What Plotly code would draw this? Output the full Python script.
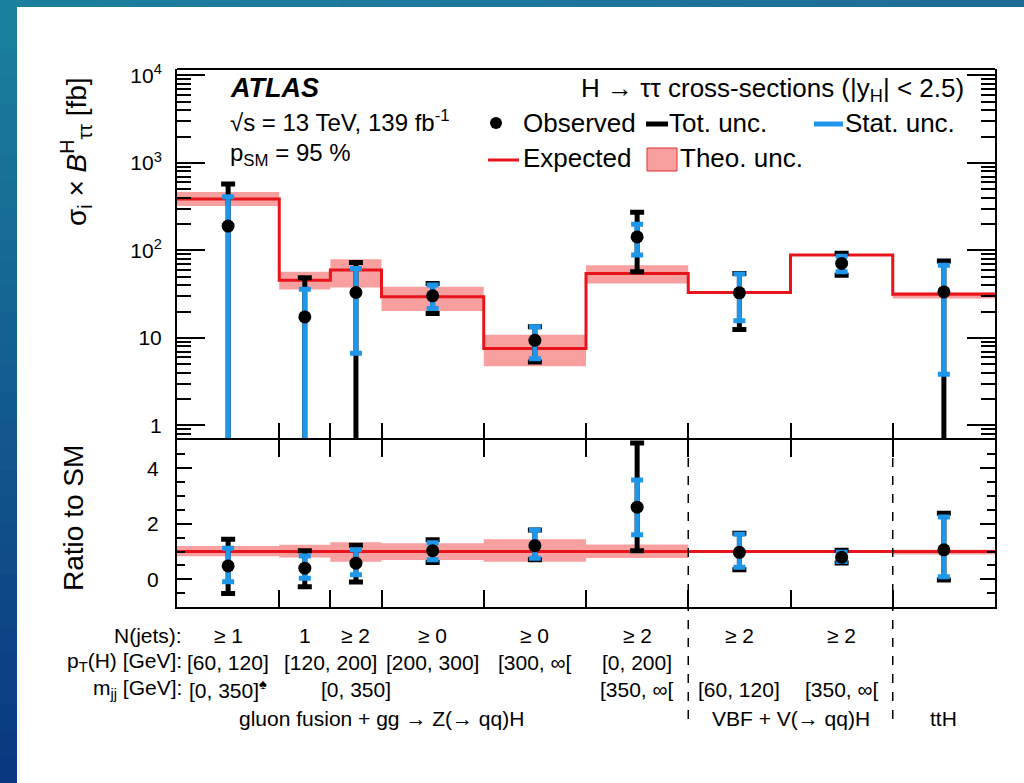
import plotly.graph_objects as go

# ---------------------------------------------------------------- data
# bin layout of the STXS categories (arbitrary x units)
bin_edges = [0, 2, 3, 4, 6, 8, 10, 12, 14, 16]

# SM expectation of sigma x B(H->tautau) [fb] and theory band
expected = [388, 45.8, 59.7, 29.5, 7.56, 54.6, 33.1, 88.6, 31.7]
theo_lo = [323, 35.8, 37.8, 20.4, 4.74, 42, 33.1, 88.6, 28.3]
theo_hi = [467, 57, 79.6, 38.4, 10.9, 68, 33.1, 88.6, 33.6]

# measured cross-sections [fb] with total and statistical intervals
observed = [190, 17.4, 33.1, 30.3, 9.4, 143, 32.8, 71.2, 33.6]
tot_lo = [-198, -12.4, -6, 19.0, 5.3, 57, 12.5, 52, -1]
tot_hi = [576, 48.7, 73, 42, 13.4, 273, 54.5, 92.7, 75.6]
stat_lo = [-35, 0.4, 6.7, 21.7, 5.8, 88.5, 15.7, 57, 3.84]
stat_hi = [412, 36.1, 62.4, 40.2, 13.4, 200, 53.7, 86, 68]

# ratio to SM
ratio_obs = [0.48, 0.40, 0.58, 1.03, 1.21, 2.60, 0.97, 0.79, 1.06]
ratio_tot_lo = [-0.51, -0.27, -0.10, 0.60, 0.70, 1.03, 0.34, 0.59, -0.03]
ratio_tot_hi = [1.44, 1.03, 1.23, 1.42, 1.78, 4.91, 1.66, 1.05, 2.38]
ratio_stat_lo = [-0.09, 0.04, 0.16, 0.70, 0.76, 1.60, 0.43, 0.64, 0.09]
ratio_stat_hi = [1.12, 0.84, 1.06, 1.32, 1.78, 3.58, 1.62, 0.97, 2.24]
ratio_theo_lo = [0.83, 0.78, 0.63, 0.69, 0.63, 0.77, 1.0, 1.0, 0.89]
ratio_theo_hi = [1.20, 1.24, 1.33, 1.30, 1.44, 1.25, 1.0, 1.0, 1.06]

# category labels per bin (identical neighbours are merged into one label)
row_titles = ["N(jets):", "p<sub>T</sub>(H) [GeV]:", "m<sub>jj</sub> [GeV]:"]
njets_labels = ["≥ 1", "1", "≥ 2", "≥ 0", "≥ 0 ", "≥ 2", "≥ 2 ", "≥ 2", ""]
pth_labels = ["[60, 120]", "[120, 200]", "[120, 200]", "[200, 300]", "[300, ∞[",
              "[0, 200]", "", "", ""]
mjj_labels = ["[0, 350]<sup>♠</sup>", "", "[0, 350]", "", "", "[350, ∞[",
              "[60, 120]", "[350, ∞[ ", ""]
production = ["gluon fusion + gg → Z(→ qq)H"] * 6 + ["VBF + V(→ qq)H"] * 2 + ["ttH"]
# the gluon-fusion caption sits left of its group centre
production_label_x = {"gluon fusion + gg → Z(→ qq)H": 4}

# ---------------------------------------------------------------- style
FONT = "Liberation Sans, Arial, Helvetica, sans-serif"
RED = "#e8141c"
BAND = "#f8a0a0"
BLUE = "#1e96ea"
BLACK = "#000000"

W, H = 1024, 783
L, R, T, B = 177, 995, 69, 607     # plot area in pixels
SPLIT = 440                          # boundary between the two panels


def px(x):
    return (x - L) / (R - L)


def py(y):
    return (B - y) / (B - T)


centers = [(a + b) / 2 for a, b in zip(bin_edges[:-1], bin_edges[1:])]
fig = go.Figure()


def step(vals):
    return vals + [vals[-1]]


def add_panel(xa, ya, exp, band_lo, band_hi, obs, t_lo, t_hi, s_lo, s_hi):
    fig.add_trace(go.Scatter(x=bin_edges, y=step(band_lo), mode="lines",
                             line=dict(width=0, shape="hv"), xaxis=xa, yaxis=ya,
                             hoverinfo="skip", showlegend=False))
    fig.add_trace(go.Scatter(x=bin_edges, y=step(band_hi), mode="lines",
                             line=dict(width=0, shape="hv"), fill="tonexty",
                             fillcolor=BAND, xaxis=xa, yaxis=ya,
                             hoverinfo="skip", showlegend=False))
    fig.add_trace(go.Scatter(x=bin_edges, y=step(exp), mode="lines",
                             line=dict(color=RED, width=3, shape="hv"),
                             xaxis=xa, yaxis=ya, showlegend=False))
    for lo, hi, col, cap in [(t_lo, t_hi, BLACK, 7), (s_lo, s_hi, BLUE, 6)]:
        fig.add_trace(go.Scatter(
            x=centers, y=obs, mode="markers",
            marker=dict(color="rgba(0,0,0,0)", size=1),
            error_y=dict(type="data", symmetric=False,
                         array=[h - o for h, o in zip(hi, obs)],
                         arrayminus=[o - l for o, l in zip(obs, lo)],
                         color=col, thickness=5, width=cap),
            xaxis=xa, yaxis=ya, showlegend=False))
    fig.add_trace(go.Scatter(x=centers, y=obs, mode="markers",
                             marker=dict(color=BLACK, size=13),
                             xaxis=xa, yaxis=ya, showlegend=False))


add_panel("x", "y", expected, theo_lo, theo_hi, observed,
          tot_lo, tot_hi, stat_lo, stat_hi)
add_panel("x2", "y2", [1.0] * len(ratio_obs), ratio_theo_lo, ratio_theo_hi, ratio_obs,
          ratio_tot_lo, ratio_tot_hi, ratio_stat_lo, ratio_stat_hi)

# ---------------------------------------------------------------- axes
split_frac = py(SPLIT)
log_major = [1, 10, 100, 1000, 10000]
log_minor = [m * 10 ** k for k in range(-1, 4) for m in range(2, 10)]
xaxis_common = dict(range=[bin_edges[0], bin_edges[-1]], tickmode="array",
                    tickvals=bin_edges[1:-1], ticks="inside", ticklen=17,
                    tickwidth=2, tickcolor=BLACK, showticklabels=False,
                    linecolor=BLACK, linewidth=2,
                    showgrid=False, zeroline=False)

fig.update_layout(
    width=W, height=H,
    margin=dict(l=L, r=W - R, t=T, b=H - B),
    paper_bgcolor="white", plot_bgcolor="white",
    font=dict(family=FONT, color=BLACK),
    xaxis=dict(domain=[0, 1], anchor="y", showline=False, **xaxis_common),
    xaxis2=dict(domain=[0, 1], anchor="y2", mirror="ticks", matches="x",
                showline=True, **xaxis_common),
    yaxis=dict(domain=[split_frac, 1], anchor="x", type="log",
               range=[-0.166, 4.074], tickmode="array", tickvals=log_major,
               ticktext=["1", "10", "10<sup>2</sup>", "10<sup>3</sup>", "10<sup>4</sup>"],
               ticks="inside", ticklen=28, tickwidth=2, tickcolor=BLACK,
               minor=dict(tickmode="array", tickvals=log_minor, ticks="inside",
                          ticklen=14, tickwidth=1.5, tickcolor=BLACK, showgrid=False),
               mirror="ticks", showline=True, linecolor=BLACK, linewidth=2,
               showgrid=False, zeroline=False, ticklabelstandoff=9,
               tickfont=dict(size=21, family=FONT, color=BLACK)),
    yaxis2=dict(domain=[0, split_frac], anchor="x2", range=[-1, 5.02],
                tickmode="array", tickvals=[0, 2, 4], ticks="inside",
                ticklen=15, tickwidth=2, tickcolor=BLACK,
                minor=dict(dtick=0.5, tick0=0, ticks="inside", ticklen=8,
                           tickwidth=1.5, tickcolor=BLACK, showgrid=False),
                mirror="ticks", showline=True, linecolor=BLACK, linewidth=2,
                showgrid=False, zeroline=False, ticklabelstandoff=12,
                tickfont=dict(size=21, family=FONT, color=BLACK)),
)

# ---------------------------------------------------------------- text
ann = []


def text(x, y, s, size, xanchor="left", yanchor="middle", angle=0, xref="paper"):
    ann.append(dict(x=x, y=y, xref=xref, yref="paper", text=s, showarrow=False,
                    xanchor=xanchor, yanchor=yanchor, textangle=angle,
                    font=dict(family=FONT, size=size, color=BLACK)))


# axis titles
text(px(76), py(152), "σ<sub>i</sub> × <i>B</i><sup>H</sup><sub>ττ</sub> [fb]", 28,
     xanchor="center", angle=-90)
text(px(73), py(518), "Ratio to SM", 28, xanchor="center", angle=-90)

# labels inside the upper panel
text(px(228), py(88), "<b><i>ATLAS</i></b>", 27)
text(px(228), py(121), "√s = 13 TeV, 139 fb<sup>-1</sup>", 24)
text(px(228), py(154), "p<sub>SM</sub> = 95 %", 24)
text(px(966), py(90), "H → ττ cross-sections (|y<sub>H</sub>| < 2.5)", 26,
     xanchor="right")

# legend
legend_rows = [
    (px(521), py(123), "Observed"), (px(667), py(123), "Tot. unc."),
    (px(843), py(123), "Stat. unc."), (px(521), py(158), "Expected"),
    (px(678), py(158), "Theo. unc."),
]
for lx, ly, s in legend_rows:
    text(lx, ly, s, 26)

shapes = []
# top edge of the frame
shapes.append(dict(type="line", xref="paper", yref="paper", x0=0, x1=1, y0=1, y1=1,
                   line=dict(color=BLACK, width=2)))
shapes.append(dict(type="circle", xref="paper", yref="paper",
                   x0=px(490), x1=px(502), y0=py(117), y1=py(129),
                   fillcolor=BLACK, line=dict(width=0)))
shapes.append(dict(type="line", xref="paper", yref="paper", x0=px(646), x1=px(668),
                   y0=py(124), y1=py(124), line=dict(color=BLACK, width=5)))
shapes.append(dict(type="line", xref="paper", yref="paper", x0=px(814), x1=px(843),
                   y0=py(124), y1=py(124), line=dict(color=BLUE, width=5)))
shapes.append(dict(type="line", xref="paper", yref="paper", x0=px(488), x1=px(519),
                   y0=py(160), y1=py(160), line=dict(color=RED, width=3)))
shapes.append(dict(type="rect", xref="paper", yref="paper", x0=px(647), x1=px(677),
                   y0=py(148), y1=py(171), fillcolor=BAND,
                   line=dict(color="#e03030", width=1)))

# category table below the ratio panel
row_y = [635, 662, 689]
for title, yy in zip(row_titles, row_y):
    text(px(184), py(yy), title, 21, xanchor="right")


def merged(labels):
    spans = []
    i = 0
    while i < len(labels):
        j = i
        while j + 1 < len(labels) and labels[j + 1] == labels[i]:
            j += 1
        if labels[i].strip():
            spans.append(((bin_edges[i] + bin_edges[j + 1]) / 2, labels[i]))
        i = j + 1
    return spans


for labels, yy in zip([njets_labels, pth_labels, mjj_labels], row_y):
    for xc, s in merged(labels):
        text(xc, py(yy), s.strip(), 21, xanchor="center", xref="x2")
for xc, s in merged(production):
    text(production_label_x.get(s, xc), py(718), s, 21, xanchor="center", xref="x2")

# dashed separators between production modes
for k in range(1, len(production)):
    if production[k] != production[k - 1]:
        shapes.append(dict(type="line", xref="x2", yref="paper",
                           x0=bin_edges[k], x1=bin_edges[k],
                           y0=py(SPLIT), y1=py(722),
                           line=dict(color=BLACK, width=1.5, dash="dash")))


# slide frame: teal band on top, blue gradient strip on the left
def mix(c1, c2, t):
    return "rgb({},{},{})".format(*[round(a + (b - a) * t) for a, b in zip(c1, c2)])


teal, navy = (27, 128, 158), (10, 56, 128)
n = 30
for i in range(n):
    shapes.append(dict(type="rect", xref="paper", yref="paper",
                       x0=px(0), x1=px(17), y0=py(i * H / n), y1=py((i + 1) * H / n + 1),
                       fillcolor=mix(teal, navy, i / (n - 1)), line=dict(width=0)))
for i in range(n):
    shapes.append(dict(type="rect", xref="paper", yref="paper",
                       x0=px(i * W / n), x1=px((i + 1) * W / n + 1), y0=py(0), y1=py(7),
                       fillcolor=mix(teal, (30, 108, 152), i / (n - 1)), line=dict(width=0)))

fig.update_layout(annotations=ann, shapes=shapes)
fig.write_html("out.html")
